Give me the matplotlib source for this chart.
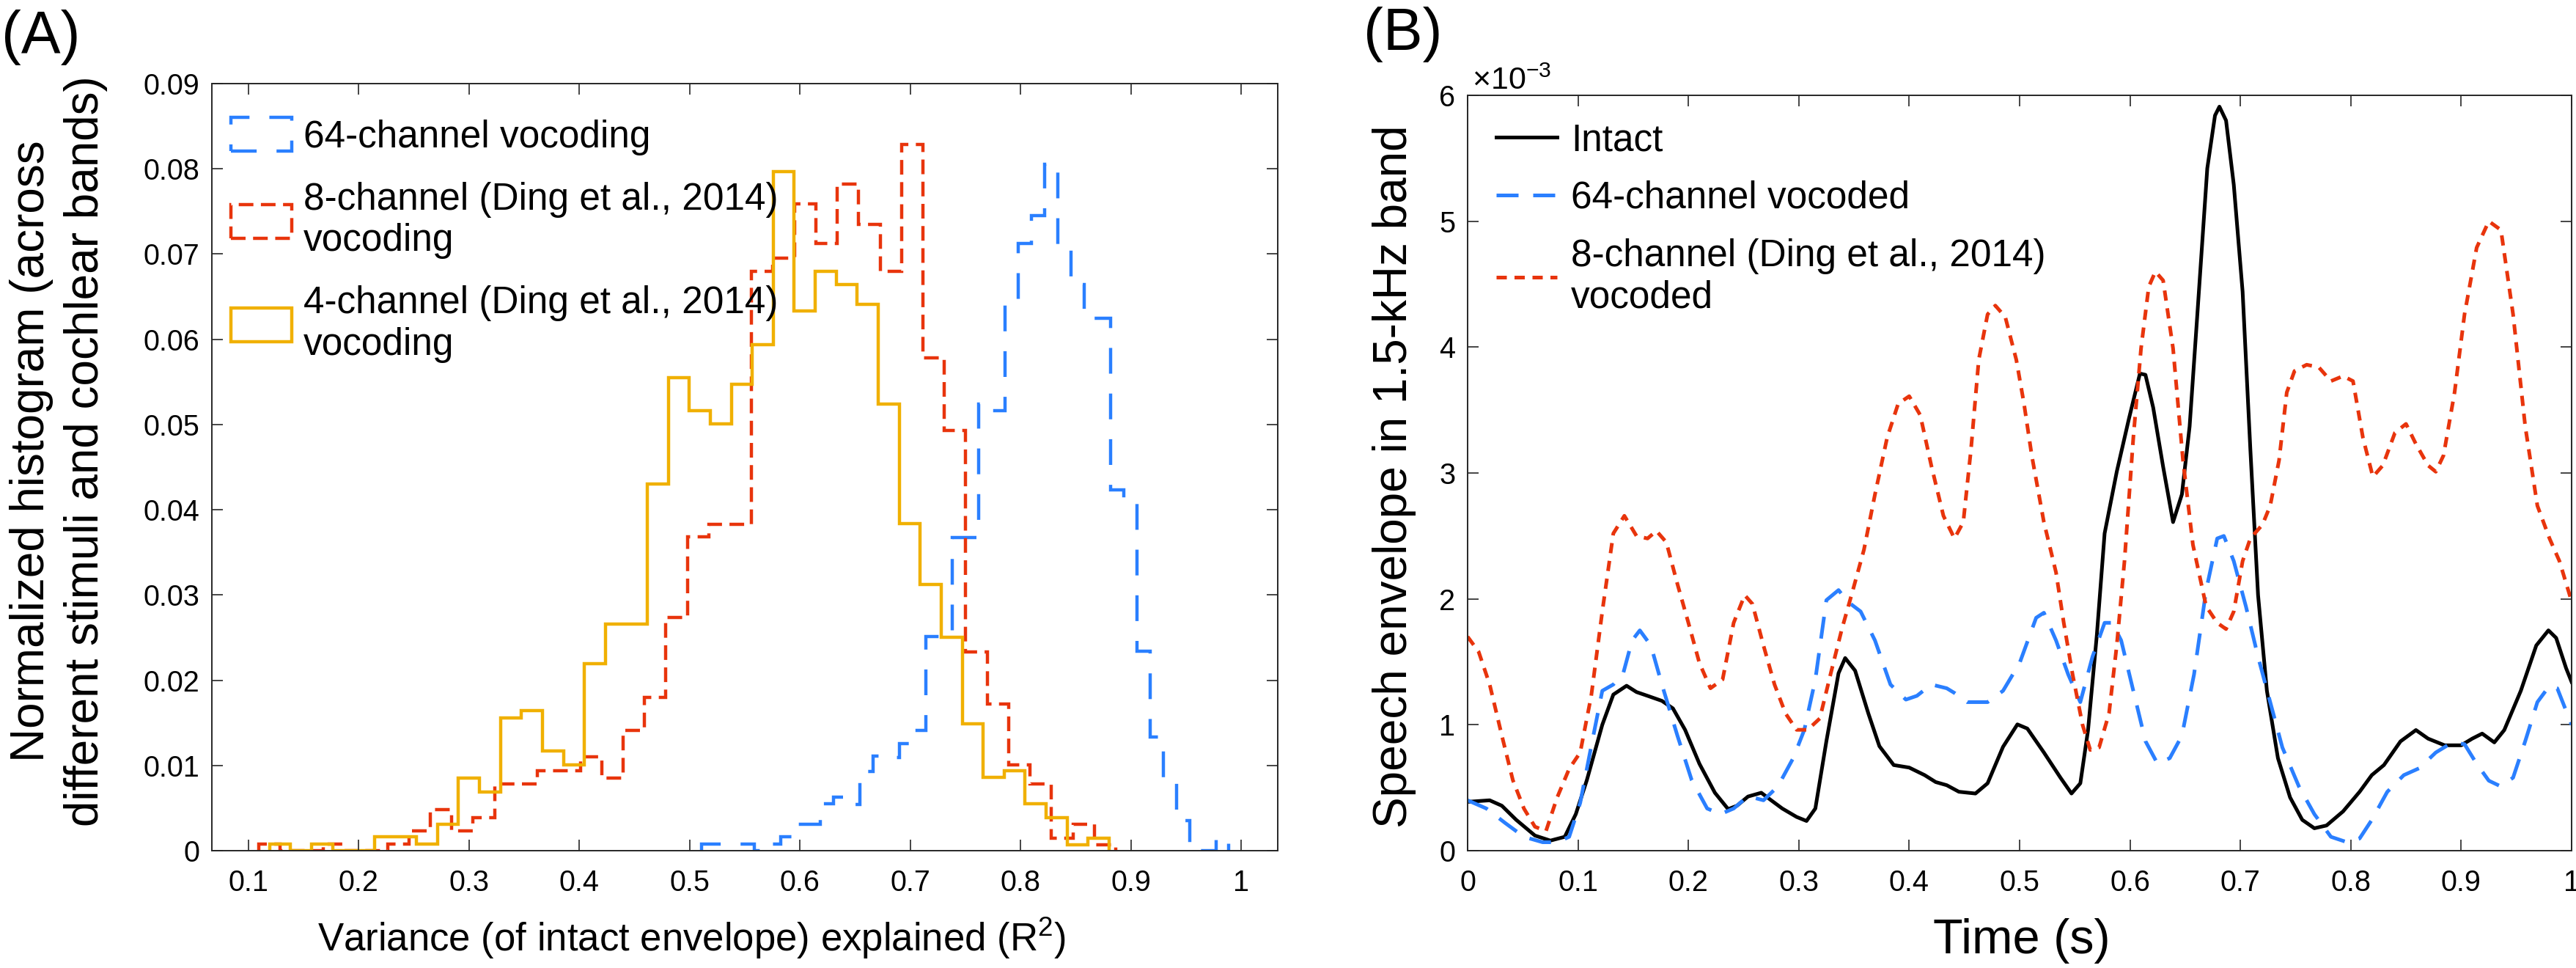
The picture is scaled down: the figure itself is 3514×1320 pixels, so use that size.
import matplotlib
matplotlib.use("Agg")
import matplotlib.pyplot as plt
from matplotlib.patches import Patch
import numpy as np

plt.rcParams['font.family'] = ['Liberation Sans', 'DejaVu Sans']
plt.rcParams['mathtext.fontset'] = 'custom'
plt.rcParams['mathtext.rm'] = 'Liberation Sans'
plt.rcParams['mathtext.it'] = 'Liberation Sans:italic'
plt.rcParams['mathtext.bf'] = 'Liberation Sans:bold'

# ---------------- Panel A data ----------------
xticks_a = [0.1, 0.2, 0.3, 0.4, 0.5, 0.6, 0.7, 0.8, 0.9, 1.0]
xticklabels_a = ['0.1', '0.2', '0.3', '0.4', '0.5', '0.6', '0.7', '0.8', '0.9', '1']
yticks_a = [0, 0.01, 0.02, 0.03, 0.04, 0.05, 0.06, 0.07, 0.08, 0.09]
yticklabels_a = ['0', '0.01', '0.02', '0.03', '0.04', '0.05', '0.06', '0.07', '0.08', '0.09']

# 64-channel vocoding histogram
bins64_start = 0.511
bins64_width = 0.01195
hist64 = [0.0008, 0.0008, 0.0008, 0.0008, 0.0, 0.0008, 0.0016, 0.0031, 0.0031, 0.0055,
          0.0063, 0.0054, 0.0093, 0.0111, 0.0109, 0.0126, 0.0141, 0.0251, 0.0256, 0.0367,
          0.0367, 0.0524, 0.0516, 0.0641, 0.0712, 0.0745, 0.0805, 0.0711, 0.0664, 0.0625,
          0.0625, 0.0423, 0.0414, 0.0234, 0.0133, 0.0085, 0.0035, 0.0, 0.0, 0.0015]

# 8-channel vocoding histogram
bins8_start = 0.1095
bins8_width = 0.01942
hist8 = [0.0008, 0.0, 0.0, 0.0008, 0.0, 0.0, 0.0008, 0.0023, 0.0048, 0.0023,
         0.0039, 0.0078, 0.0078, 0.0094, 0.0094, 0.0110, 0.0085, 0.0141, 0.0180, 0.0274,
         0.0368, 0.0383, 0.0383, 0.0680, 0.0695, 0.0759, 0.0712, 0.0782, 0.0735, 0.0680,
         0.0829, 0.0578, 0.0493, 0.0233, 0.0172, 0.0101, 0.0078, 0.0015, 0.0031, 0.0007]

# 4-channel vocoding histogram
bins4_start = 0.1191
bins4_width = 0.01903
hist4 = [0.0008, 0.0, 0.0008, 0.0, 0.0, 0.0016, 0.0016, 0.0008, 0.0031, 0.0085,
         0.0069, 0.0156, 0.0164, 0.0117, 0.0101, 0.0219, 0.0266, 0.0266, 0.0430, 0.0555,
         0.0516, 0.0501, 0.0547, 0.0594, 0.0797, 0.0633, 0.0680, 0.0664, 0.0641, 0.0524,
         0.0384, 0.0312, 0.0250, 0.0149, 0.0086, 0.0094, 0.0055, 0.0039, 0.0007, 0.0015]

labels_a = ['64-channel vocoding', '8-channel (Ding et al., 2014)\nvocoding',
            '4-channel (Ding et al., 2014)\nvocoding']

# ---------------- Panel B data (values in units of 1e-3) ----------------
xticks_b = [0, 0.1, 0.2, 0.3, 0.4, 0.5, 0.6, 0.7, 0.8, 0.9, 1.0]
xticklabels_b = ['0', '0.1', '0.2', '0.3', '0.4', '0.5', '0.6', '0.7', '0.8', '0.9', '1']
yticks_b = [0, 1, 2, 3, 4, 5, 6]
yticklabels_b = ['0', '1', '2', '3', '4', '5', '6']

t_intact = [0.0, 0.020, 0.031, 0.044, 0.061, 0.075, 0.088, 0.098, 0.108, 0.122, 0.132, 0.144,
            0.153, 0.163, 0.176, 0.186, 0.197, 0.210, 0.224, 0.236, 0.244, 0.254, 0.266, 0.275,
            0.285, 0.298, 0.307, 0.315, 0.325, 0.336, 0.342, 0.351, 0.363, 0.373, 0.386, 0.400,
            0.414, 0.424, 0.434, 0.445, 0.460, 0.471, 0.485, 0.498, 0.507, 0.522, 0.537, 0.547,
            0.555, 0.562, 0.570, 0.577, 0.588, 0.599, 0.609, 0.614, 0.621, 0.630, 0.639, 0.647,
            0.654, 0.661, 0.670, 0.677, 0.681, 0.687, 0.694, 0.702, 0.709, 0.716, 0.724, 0.734,
            0.745, 0.756, 0.767, 0.778, 0.793, 0.808, 0.819, 0.830, 0.845, 0.859, 0.870, 0.885,
            0.900, 0.910, 0.919, 0.930, 0.939, 0.954, 0.968, 0.979, 0.986, 0.995, 1.0]
v_intact = [0.388, 0.40, 0.357, 0.245, 0.12, 0.08, 0.11, 0.29, 0.56, 1.0, 1.24, 1.31,
            1.26, 1.23, 1.19, 1.13, 0.96, 0.69, 0.46, 0.33, 0.357, 0.43, 0.46, 0.40,
            0.335, 0.268, 0.236, 0.335, 0.87, 1.41, 1.53, 1.43, 1.09, 0.83, 0.68, 0.66,
            0.60, 0.545, 0.52, 0.468, 0.454, 0.535, 0.825, 1.003, 0.97, 0.78, 0.58, 0.454,
            0.535, 0.958, 1.717, 2.52, 3.01, 3.43, 3.79, 3.78, 3.52, 3.05, 2.61, 2.83,
            3.37, 4.26, 5.42, 5.84, 5.91, 5.80, 5.29, 4.44, 3.19, 2.03, 1.27, 0.735,
            0.423, 0.245, 0.178, 0.20, 0.312, 0.468, 0.60, 0.68, 0.868, 0.958, 0.89, 0.837,
            0.837, 0.89, 0.93, 0.86, 0.958, 1.27, 1.63, 1.75, 1.69, 1.45, 1.34]

t_64 = [0.0, 0.017, 0.034, 0.051, 0.068, 0.081, 0.092, 0.102, 0.112, 0.122, 0.132, 0.141,
        0.149, 0.156, 0.166, 0.176, 0.190, 0.203, 0.217, 0.229, 0.241, 0.254, 0.268, 0.281,
        0.295, 0.305, 0.315, 0.325, 0.336, 0.344, 0.356, 0.369, 0.383, 0.397, 0.407, 0.420,
        0.434, 0.4415, 0.4525, 0.471, 0.485, 0.500, 0.515, 0.522, 0.533, 0.544, 0.555, 0.566,
        0.577, 0.584, 0.592, 0.603, 0.614, 0.625, 0.636, 0.647, 0.658, 0.669, 0.679, 0.685,
        0.694, 0.705, 0.716, 0.727, 0.738, 0.753, 0.767, 0.782, 0.797, 0.808, 0.819, 0.833,
        0.848, 0.862, 0.877, 0.892, 0.903, 0.914, 0.925, 0.936, 0.947, 0.958, 0.969, 0.980,
        0.987, 1.0]
v_64 = [0.40, 0.335, 0.22, 0.11, 0.067, 0.067, 0.11, 0.38, 0.83, 1.27, 1.32, 1.41,
        1.67, 1.75, 1.63, 1.32, 0.915, 0.56, 0.335, 0.29, 0.335, 0.433, 0.40, 0.51,
        0.736, 0.96, 1.36, 1.99, 2.07, 1.98, 1.90, 1.67, 1.32, 1.20, 1.23, 1.32,
        1.29, 1.25, 1.18, 1.18, 1.27, 1.49, 1.85, 1.89, 1.67, 1.40, 1.18, 1.54,
        1.81, 1.81, 1.67, 1.27, 0.87, 0.69, 0.735, 0.913, 1.40, 2.07, 2.48, 2.50,
        2.30, 1.94, 1.54, 1.18, 0.82, 0.51, 0.29, 0.11, 0.066, 0.097, 0.244, 0.467,
        0.60, 0.655, 0.78, 0.86, 0.846, 0.69, 0.556, 0.51, 0.58, 0.87, 1.18, 1.31,
        1.29, 1.0]

t_8 = [0.0, 0.010, 0.020, 0.031, 0.041, 0.051, 0.061, 0.071, 0.081, 0.092, 0.102, 0.112,
       0.122, 0.132, 0.142, 0.153, 0.163, 0.171, 0.180, 0.190, 0.200, 0.210, 0.220, 0.231,
       0.241, 0.251, 0.258, 0.268, 0.278, 0.288, 0.298, 0.308, 0.319, 0.329, 0.339, 0.349,
       0.359, 0.369, 0.380, 0.390, 0.400, 0.410, 0.420, 0.431, 0.441, 0.449, 0.456, 0.463,
       0.471, 0.478, 0.487, 0.497, 0.504, 0.511, 0.522, 0.533, 0.540, 0.548, 0.557, 0.564,
       0.572, 0.581, 0.588, 0.595, 0.603, 0.610, 0.617, 0.623, 0.630, 0.639, 0.648, 0.657,
       0.669, 0.679, 0.687, 0.694, 0.702, 0.709, 0.720, 0.727, 0.735, 0.742, 0.749, 0.760,
       0.771, 0.782, 0.793, 0.802, 0.811, 0.820, 0.829, 0.840, 0.850, 0.859, 0.870, 0.877,
       0.884, 0.894, 0.903, 0.914, 0.925, 0.936, 0.947, 0.958, 0.969, 0.980, 0.989, 1.0]
v_8 = [1.70, 1.58, 1.32, 0.915, 0.56, 0.335, 0.19, 0.156, 0.42, 0.65, 0.78, 1.23,
       1.90, 2.52, 2.66, 2.50, 2.48, 2.54, 2.45, 2.12, 1.81, 1.49, 1.29, 1.36,
       1.81, 2.03, 1.96, 1.63, 1.32, 1.09, 0.96, 0.96, 1.05, 1.41, 1.76, 2.07,
       2.39, 2.83, 3.28, 3.55, 3.61, 3.46, 3.06, 2.66, 2.48, 2.61, 3.19, 3.90,
       4.26, 4.33, 4.24, 3.90, 3.55, 3.14, 2.61, 2.21, 1.81, 1.40, 1.00, 0.80,
       0.82, 1.09, 1.63, 2.30, 3.28, 3.99, 4.48, 4.60, 4.53, 3.99, 3.10, 2.43,
       1.94, 1.81, 1.76, 1.90, 2.30, 2.48, 2.59, 2.74, 3.10, 3.64, 3.81, 3.86,
       3.84, 3.73, 3.77, 3.73, 3.28, 2.97, 3.06, 3.32, 3.39, 3.23, 3.06, 3.01,
       3.14, 3.64, 4.26, 4.79, 5.00, 4.93, 4.26, 3.37, 2.74, 2.48, 2.30, 1.98]

labels_b = ['Intact', '64-channel vocoded', '8-channel (Ding et al., 2014)\nvocoded']

# ---------------- styling ----------------
C_BLUE = '#2a7fff'
C_RED = '#e8340c'
C_ORANGE = '#f0b000'
C_AX = '#262626'

W, H = 3514, 1320
DPI = 100
fig = plt.figure(figsize=(W / DPI, H / DPI), dpi=DPI)

def fx(px):
    return px / W

def fy(py):
    return 1 - py / H

ax1 = fig.add_axes([fx(289), fy(1160), fx(1743 - 289), (1160 - 114) / H])
ax2 = fig.add_axes([fx(2002), fy(1160), fx(3508 - 2002), (1160 - 130) / H])

TICK_FS = 28.5
LEG_FS = 37

for ax in (ax1, ax2):
    for s in ax.spines.values():
        s.set_linewidth(1.4)
        s.set_color(C_AX)
    ax.tick_params(direction='in', length=10.8, width=1.2, color=C_AX,
                   top=True, right=True, labelsize=TICK_FS, labelcolor='black')
    ax.tick_params(axis='x', pad=18)
    ax.tick_params(axis='y', pad=12)

# ---------------- Panel A ----------------
lw_h = 3.2
edges64 = bins64_start + bins64_width * np.arange(len(hist64) + 1)
edges8 = bins8_start + bins8_width * np.arange(len(hist8) + 1)
edges4 = bins4_start + bins4_width * np.arange(len(hist4) + 1)
ls64 = (0, (7.9, 6.1))
ls8 = (0, (4.5, 2.3))
ax1.stairs(hist64, edges64, baseline=0, color=C_BLUE, linewidth=lw_h, linestyle=ls64)
ax1.stairs(hist8, edges8, baseline=0, color=C_RED, linewidth=lw_h, linestyle=ls8)
ax1.stairs(hist4, edges4, baseline=0, color=C_ORANGE, linewidth=lw_h, linestyle='-')

ax1.set_xlim(0.0668, 1.0332)
ax1.set_ylim(0, 0.09)
ax1.set_xticks(xticks_a)
ax1.set_xticklabels(xticklabels_a)
ax1.set_yticks(yticks_a)
ax1.set_yticklabels(yticklabels_a)

hA = [Patch(facecolor='none', edgecolor=C_BLUE, linewidth=lw_h, linestyle=ls64),
      Patch(facecolor='none', edgecolor=C_RED, linewidth=lw_h, linestyle=ls8),
      Patch(facecolor='none', edgecolor=C_ORANGE, linewidth=lw_h, linestyle='-')]
fig.legend(hA, labels_a, loc='upper left', bbox_to_anchor=(fx(315), fy(160)),
           frameon=False, fontsize=LEG_FS, borderpad=0, borderaxespad=0,
           handlelength=1.62, handleheight=1.0, handletextpad=0.3, labelspacing=0.7)

fig.text(fx(80), fy(615), 'Normalized histogram (across\ndifferent stimuli and cochlear bands)',
         rotation=90, ha='center', va='center', fontsize=46, linespacing=1.3)
fig.text(fx(943), fy(1297), 'Variance (of intact envelope) explained (R$^2$)',
         ha='center', va='baseline', fontsize=38)
fig.text(fx(2), fy(72), '(A)', ha='left', va='baseline', fontsize=58)

# ---------------- Panel B ----------------
lw_l = 3.6
ax2.plot(t_intact, v_intact, color='black', linewidth=lw_l, linestyle='-', label=labels_b[0])
ax2.plot(t_64, v_64, color=C_BLUE, linewidth=lw_l, linestyle=(0, (6.0, 4.0)), label=labels_b[1])
ax2.plot(t_8, v_8, color=C_RED, linewidth=lw_l, linestyle=(0, (2.8, 2.1)), label=labels_b[2])
ax2.set_xlim(0, 1)
ax2.set_ylim(0, 6)
ax2.set_xticks(xticks_b)
ax2.set_xticklabels(xticklabels_b)
ax2.set_yticks(yticks_b)
ax2.set_yticklabels(yticklabels_b)

fig.legend(*ax2.get_legend_handles_labels(), loc='upper left',
           bbox_to_anchor=(fx(2041), fy(167)), frameon=False, fontsize=LEG_FS,
           borderpad=0, borderaxespad=0, handlelength=1.62, handletextpad=0.37,
           labelspacing=0.58)

fig.text(fx(2008), fy(122), '×10$^{-3}$', ha='left', va='baseline', fontsize=31)
fig.text(fx(1902), fy(650), 'Speech envelope in 1.5-kHz band', rotation=90,
         ha='center', va='center', fontsize=46)
fig.text(fx(2758), fy(1300), 'Time (s)', ha='center', va='baseline', fontsize=48)
fig.text(fx(1860), fy(68), '(B)', ha='left', va='baseline', fontsize=58)

fig.savefig('out.png', dpi=DPI)
